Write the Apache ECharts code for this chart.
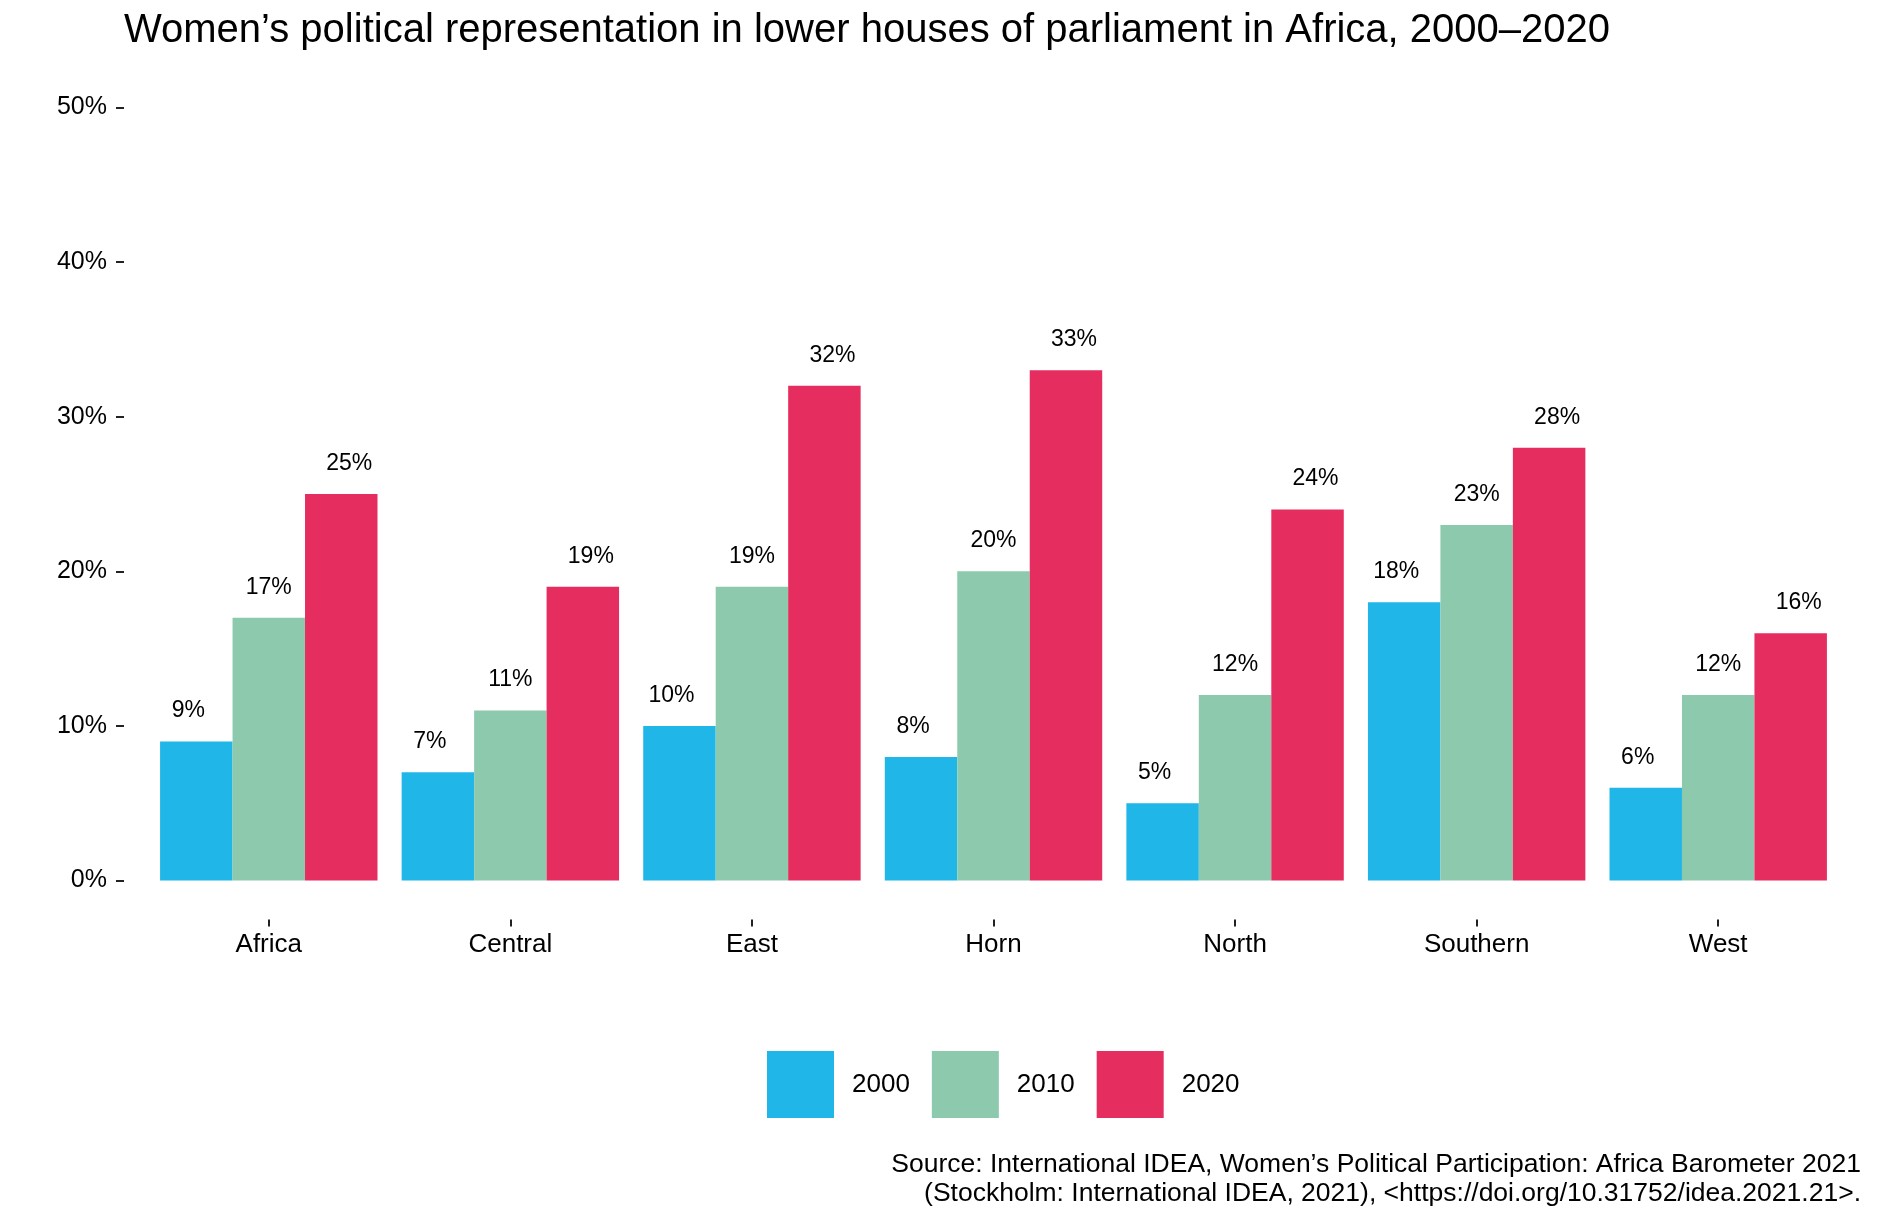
<!DOCTYPE html>
<html>
<head>
<meta charset="utf-8">
<script src="https://cdn.jsdelivr.net/npm/echarts@6/dist/echarts.min.js"></script>
<style>html,body{margin:0;padding:0;background:#fff}#c{width:1881px;height:1222px}</style>
</head>
<body>
<div id="c"></div>
<script>
const categories = ['Africa', 'Central', 'East', 'Horn', 'North', 'Southern', 'West'];
const years = ['2000', '2010', '2020'];
const values2000 = [9, 7, 10, 8, 5, 18, 6];
const values2010 = [17, 11, 19, 20, 12, 23, 12];
const values2020 = [25, 19, 32, 33, 24, 28, 16];
const yTicks = [0, 10, 20, 30, 40, 50];
const titleText = 'Women\u2019s political representation in lower houses of parliament in Africa, 2000\u20132020';
const sourceLines = [
  'Source: International IDEA, Women\u2019s Political Participation: Africa Barometer 2021',
  '(Stockholm: International IDEA, 2021), <https://doi.org/10.31752/idea.2021.21>.'
];

const FONT = '"Liberation Sans", Arial, Helvetica, sans-serif';
const colors = ['#21B6E8', '#8DCAAD', '#E52D5F'];
const seriesValues = [values2000, values2010, values2020];
const labelOffsets = [[-8, 0], [0, 0], [8, 0]];

const chart = echarts.init(document.getElementById('c'), null, {renderer: 'canvas'});
chart.setOption({
  animation: false,
  backgroundColor: '#ffffff',
  textStyle: {fontFamily: FONT},
  title: {
    text: titleText,
    left: 124,
    top: 11,
    padding: 0,
    textStyle: {fontFamily: FONT, fontSize: 40, fontWeight: 'normal', color: '#000'}
  },
  legend: {
    data: years,
    left: 767,
    top: 1051,
    padding: 0,
    itemWidth: 67,
    itemHeight: 67,
    itemGap: 22,
    icon: 'rect',
    textStyle: {fontFamily: FONT, fontSize: 26, color: '#000', padding: [0, 0, 0, 13]}
  },
  grid: [
    {left: 148, right: 42, top: 107.5, bottom: 341.4, containLabel: false},
    {left: 148, right: 42, top: 107.5, bottom: 302.4, containLabel: false}
  ],
  xAxis: [
    {
      type: 'category',
      gridIndex: 0,
      data: categories,
      axisLine: {show: false},
      axisTick: {show: false},
      axisLabel: {show: false}
    },
    {
      type: 'category',
      gridIndex: 1,
      data: categories,
      axisLine: {show: false},
      axisTick: {show: true, alignWithLabel: true, length: 7, lineStyle: {color: '#222', width: 2}},
      axisLabel: {fontFamily: FONT, fontSize: 26, color: '#000', margin: 12}
    }
  ],
  yAxis: [
    {
      type: 'value',
      gridIndex: 0,
      min: yTicks[0],
      max: yTicks[yTicks.length - 1],
      interval: 10,
      offset: 24,
      axisLine: {show: false},
      splitLine: {show: false},
      axisTick: {show: true, length: 8, lineStyle: {color: '#222', width: 2}},
      axisLabel: {fontFamily: FONT, fontSize: 25, color: '#000', margin: 17, formatter: '{value}%'}
    },
    {
      type: 'value',
      gridIndex: 1,
      show: false
    }
  ],
  series: years.map((y, i) => ({
    name: y,
    type: 'bar',
    xAxisIndex: 0,
    yAxisIndex: 0,
    data: seriesValues[i],
    barGap: '0%',
    barCategoryGap: '10%',
    itemStyle: {color: colors[i]},
    label: {
      show: true,
      position: 'top',
      distance: 19,
      offset: labelOffsets[i],
      formatter: '{c}%',
      fontFamily: FONT,
      fontSize: 23,
      color: '#000'
    }
  })),
  graphic: sourceLines.map((t, i) => ({
    type: 'text',
    x: 1861,
    y: 1165 + i * 29,
    style: {text: t, fontFamily: FONT, fontSize: 26.5, fill: '#000', textAlign: 'right', textVerticalAlign: 'middle'}
  }))
});
</script>
</body>
</html>
